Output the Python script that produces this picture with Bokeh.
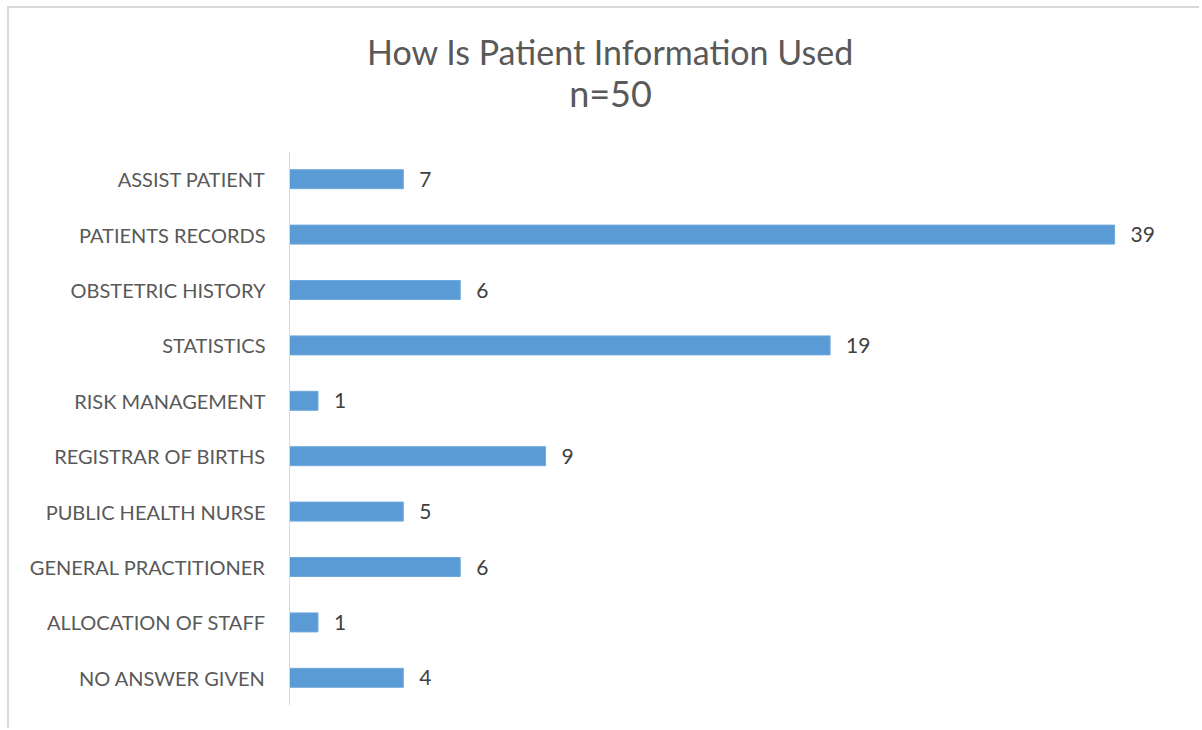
from bokeh.plotting import figure
from bokeh.models import ColumnDataSource, FactorRange, Range1d
from bokeh.layouts import column
from bokeh.embed import file_html
from bokeh.resources import INLINE
from bokeh.core.properties import value

categories = ["ASSIST PATIENT", "PATIENTS RECORDS", "OBSTETRIC HISTORY", "STATISTICS",
              "RISK MANAGEMENT", "REGISTRAR OF BIRTHS", "PUBLIC HEALTH NURSE",
              "GENERAL PRACTITIONER", "ALLOCATION OF STAFF", "NO ANSWER GIVEN"]
# bar lengths as drawn in the reference
bar_lengths = [4, 29, 6, 19, 1, 9, 4, 6, 1, 4]
# data labels as printed in the reference
label_values = [7, 39, 6, 19, 1, 9, 5, 6, 1, 4]
title_lines = ["How Is Patient Information Used", "n=50"]

FONT = "Lato"
W = 1190
TITLE_H = 143
MAIN_H = 577
FRAME_W = W - 280 - 28

# ---- title strip (a figure used only as a canvas for the two title lines) ----
t = figure(width=W, height=TITLE_H, output_backend="svg", toolbar_location=None,
           x_range=Range1d(0, FRAME_W), y_range=Range1d(0, TITLE_H),
           min_border=0, title=None)
t.axis.visible = False
t.grid.visible = False
t.outline_line_color = None
t.text(x=[321], y=[100], text=[title_lines[0]], text_align="center",
       text_baseline="alphabetic", text_font=value(FONT), text_font_size="34px",
       text_color="#595959")
t.text(x=[321], y=[59], text=[title_lines[1]], text_align="center",
       text_baseline="alphabetic", text_font=value(FONT), text_font_size="36px",
       text_color="#595959")

# ---- bar chart ----
src = ColumnDataSource(dict(cat=categories, length=bar_lengths,
                            lab=[str(v) for v in label_values]))

p = figure(width=W, height=MAIN_H, output_backend="svg", toolbar_location=None,
           y_range=FactorRange(factors=categories[::-1]),
           x_range=(0, 31), title=None,
           min_border_left=280, min_border_right=28, min_border_top=0,
           min_border_bottom=23)

p.hbar(y="cat", right="length", height=0.343, source=src,
       fill_color="#5b9bd5", line_color="#6ea8dc", line_width=1)
p.text(x="length", y="cat", text="lab", source=src, x_offset=16,
       text_align="left", text_baseline="middle",
       text_font=value(FONT), text_font_size="21px", text_color="#404040")

p.xaxis.visible = False
p.xgrid.visible = False
p.ygrid.visible = False
p.outline_line_color = None

ax = p.yaxis[0]
ax.axis_line_color = "#d9d9d9"
ax.axis_line_width = 1
ax.major_tick_line_color = None
ax.minor_tick_line_color = None
ax.major_tick_out = 0
ax.major_label_standoff = 24
ax.major_label_text_font = FONT
ax.major_label_text_font_size = "20px"
ax.major_label_text_color = "#595959"

layout = column(t, p, spacing=0)
layout.styles = {"margin-left": "7px", "margin-top": "6px",
                 "border-top": "2px solid #d9d9d9", "border-left": "2px solid #d9d9d9"}

open("out.html", "w").write(file_html(layout, INLINE))
